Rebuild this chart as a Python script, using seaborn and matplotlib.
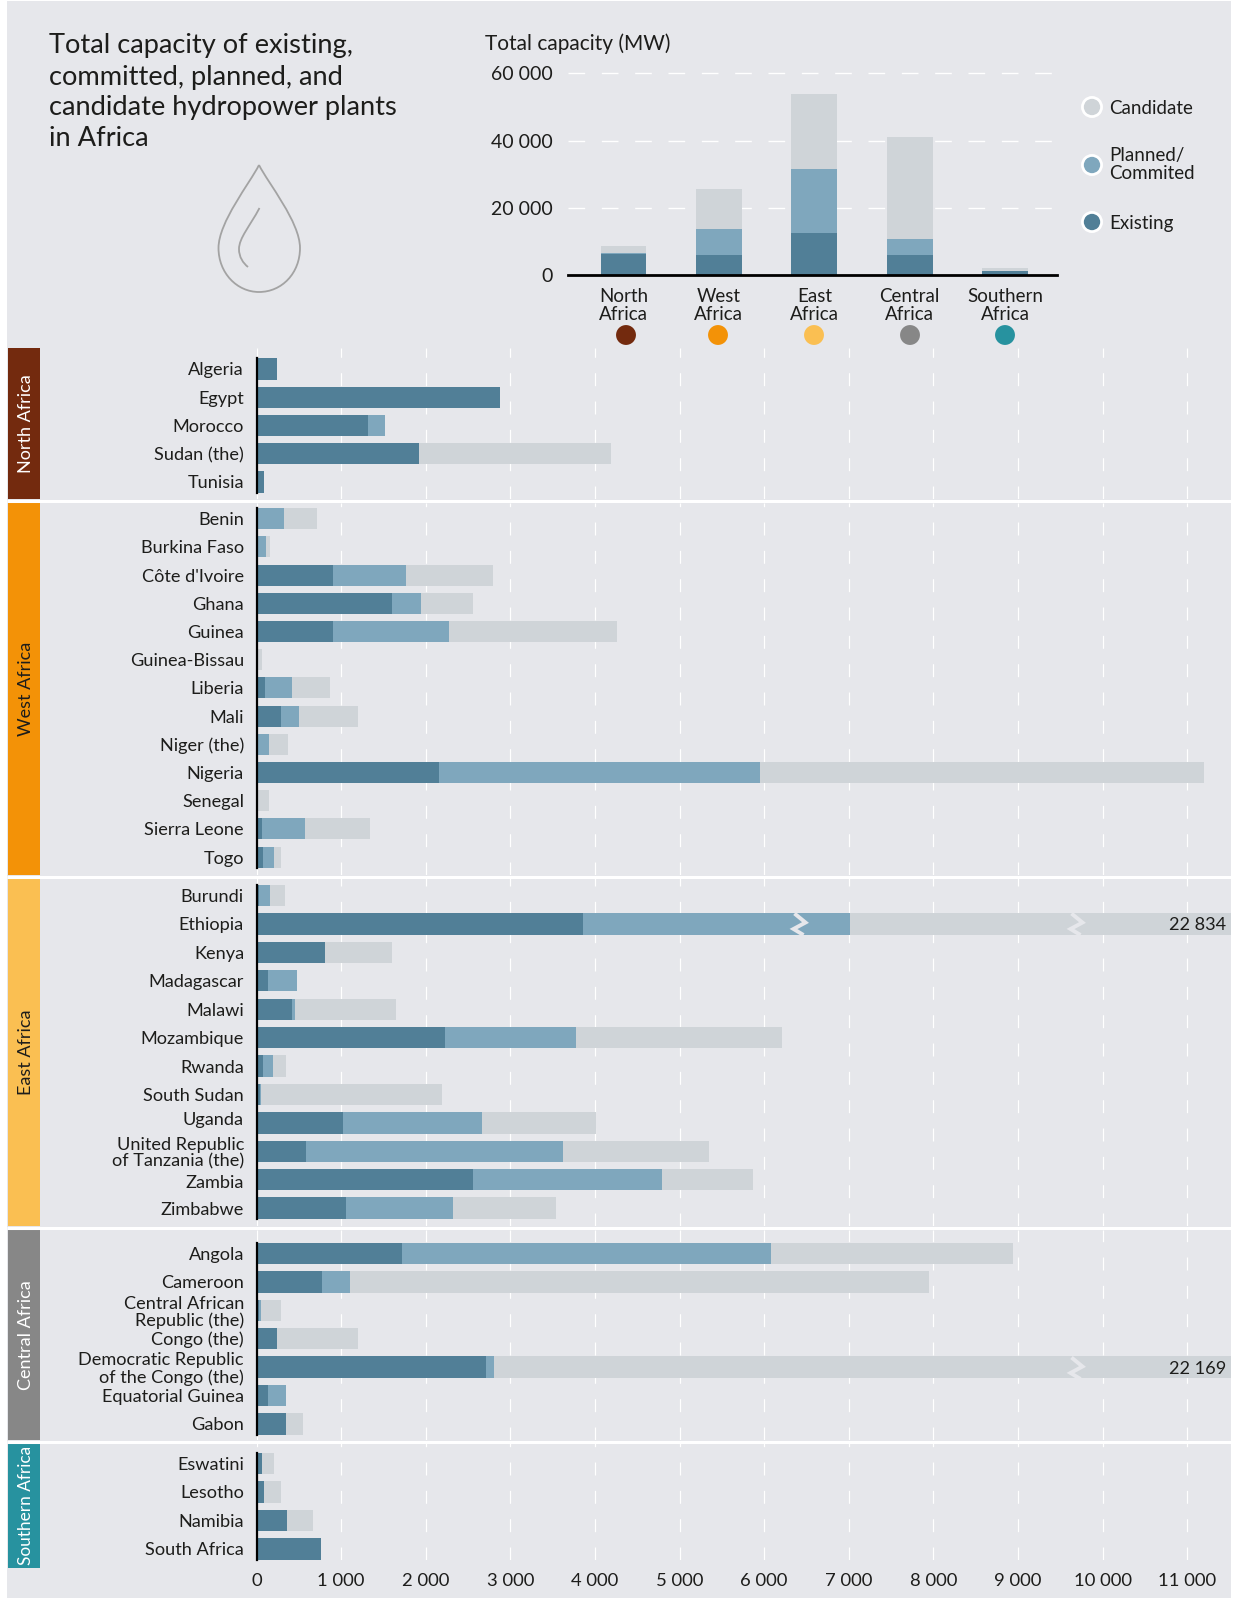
import numpy as np
import pandas as pd
import matplotlib
matplotlib.use("Agg")
import matplotlib.pyplot as plt
from matplotlib.patches import Rectangle, PathPatch
from matplotlib.path import Path
from matplotlib.transforms import ScaledTranslation
import seaborn as sns

W, H = 1238, 1598
FONT = ["Lato", "DejaVu Sans"]
INK = "#1d1d1b"
PANEL = "#e6e7eb"
C_EXIST = "#517f97"
C_PLAN = "#7fa7bd"
C_CAND = "#cfd4d8"

# ---------- summary chart ----------
regions = ["North\nAfrica", "West\nAfrica", "East\nAfrica", "Central\nAfrica", "Southern\nAfrica"]
region_colors = ["#732a0e", "#f39207", "#fabf52", "#878787", "#27929f"]
region_existing = [6300, 5950, 12500, 5950, 1200]
region_planned = [250, 7750, 19000, 4750, 0]
region_candidate = [2150, 11900, 22400, 30400, 900]

# ---------- country chart (MW as drawn; Ethiopia and DRC bars are cut short) ----------
north_names = ["Algeria", "Egypt", "Morocco", "Sudan (the)", "Tunisia"]
north_existing = [240, 2880, 1313, 1915, 85]
north_planned = [0, 0, 205, 0, 0]
north_candidate = [0, 0, 0, 2278, 0]

west_names = ["Benin", "Burkina Faso", "Côte d'Ivoire", "Ghana", "Guinea", "Guinea-Bissau", "Liberia",
              "Mali", "Niger (the)", "Nigeria", "Senegal", "Sierra Leone", "Togo"]
west_existing = [15, 20, 904, 1602, 904, 0, 96, 289, 10, 2157, 0, 60, 72]
west_planned = [310, 88, 867, 338, 1373, 0, 326, 217, 135, 3795, 0, 518, 133]
west_candidate = [385, 49, 1024, 614, 1988, 60, 445, 699, 228, 5253, 145, 759, 84]

east_names = ["Burundi", "Ethiopia", "Kenya", "Madagascar", "Malawi", "Mozambique", "Rwanda", "South Sudan",
              "Uganda", "United Republic\nof Tanzania (the)", "Zambia", "Zimbabwe"]
east_existing = [25, 3855, 807, 133, 422, 2229, 72, 40, 1024, 590, 2554, 1060]
east_planned = [132, 3157, 0, 349, 36, 1542, 121, 8, 1639, 3037, 2241, 1265]
east_candidate = [180, 4508, 795, 0, 1192, 2446, 156, 2145, 1349, 1722, 1072, 1217]

central_names = ["Angola", "Cameroon", "Central African\nRepublic (the)", "Congo (the)",
                 "Democratic Republic\nof the Congo (the)", "Equatorial Guinea", "Gabon"]
central_existing = [1723, 771, 25, 240, 2711, 133, 349]
central_planned = [4361, 337, 23, 0, 96, 216, 0]
central_candidate = [2856, 6844, 241, 965, 8713, 0, 205]

south_names = ["Eswatini", "Lesotho", "Namibia", "South Africa"]
south_existing = [70, 85, 361, 759]
south_planned = [0, 0, 0, 0]
south_candidate = [135, 204, 302, 0]

x_ticks = [0, 1000, 2000, 3000, 4000, 5000, 6000, 7000, 8000, 9000, 10000, 11000]
x_labels = ["0", "1 000", "2 000", "3 000", "4 000", "5 000", "6 000", "7 000", "8 000", "9 000", "10 000", "11 000"]
y_ticks = [0, 20000, 40000, 60000]
y_labels = ["0", "20 000", "40 000", "60 000"]

sns.set_theme(style="white")
plt.rcParams["font.family"] = FONT
plt.rcParams["text.color"] = INK

fig = plt.figure(figsize=(W / 100, H / 100), dpi=100, facecolor="white")


def rect(left, top, right, bottom):
    return [left / W, 1 - bottom / H, (right - left) / W, (bottom - top) / H]


bg = fig.add_axes([0, 0, 1, 1], zorder=0)
bg.set_xlim(0, W); bg.set_ylim(H, 0); bg.axis("off")
fg = fig.add_axes([0, 0, 1, 1], zorder=5)
fg.set_xlim(0, W); fg.set_ylim(H, 0); fg.axis("off"); fg.patch.set_alpha(0)

bg.add_patch(Rectangle((7, 1), 1224, 1597, fc=PANEL, ec="none"))

# ---------- title ----------
for i, line in enumerate(["Total capacity of existing,", "committed, planned, and",
                          "candidate hydropower plants", "in Africa"]):
    bg.text(49, 46 + 31 * i, line, fontsize=19.6, va="center", ha="left", color=INK)

# drop icon
drop_codes = [Path.MOVETO, Path.CURVE4, Path.CURVE4, Path.CURVE4, Path.CURVE4, Path.CURVE4, Path.CURVE4,
              Path.CURVE4, Path.CURVE4, Path.CURVE4, Path.CURVE4, Path.CURVE4, Path.CURVE4]
drop_verts = [(259, 165), (250, 183), (218.5, 222), (218.5, 248), (218.5, 273), (237, 292), (259, 292),
              (282, 292), (300, 273), (300, 248), (300, 222), (268, 183), (259, 165)]
bg.add_patch(PathPatch(Path(drop_verts, drop_codes), fc="none", ec="#a3a3a3", lw=1.3))
inner = Path([(259.5, 208), (250, 226), (239, 238), (239, 249), (239, 257), (243, 263), (248, 267)],
             [Path.MOVETO] + [Path.CURVE4] * 6)
bg.add_patch(PathPatch(inner, fc="none", ec="#a3a3a3", lw=1.3))

# ---------- summary chart ----------
ax_top = fig.add_axes(rect(568, 60, 1057, 275), zorder=1)
ax_top.patch.set_alpha(0)
exist = np.array(region_existing, float)
plan = exist + np.array(region_planned, float)
cand = plan + np.array(region_candidate, float)
for vals, col in [(cand, C_CAND), (plan, C_PLAN), (exist, C_EXIST)]:
    sns.barplot(data=pd.DataFrame({"region": regions, "mw": vals}), x="region", y="mw", color=col,
                saturation=1, width=0.48, linewidth=0, ax=ax_top)
ax_top.set_xlim(-0.582, 4.544)
ax_top.set_ylim(0, 63988)
ax_top.set_xlabel(""); ax_top.set_ylabel("")
ax_top.set_yticks(y_ticks, y_labels)
ax_top.set_axisbelow(True)
ax_top.yaxis.grid(True, color="white", lw=1.0, linestyle=(0, (12, 12)))
ax_top.xaxis.grid(False)
for s in ["top", "left", "right"]:
    ax_top.spines[s].set_visible(False)
ax_top.spines["bottom"].set_color("black")
ax_top.spines["bottom"].set_linewidth(2)
ax_top.tick_params(axis="y", length=0, pad=11, labelsize=14, labelcolor=INK)
ax_top.tick_params(axis="x", length=0, pad=9, labelsize=13.5, labelcolor=INK)
for lab in ax_top.get_xticklabels():
    lab.set_linespacing(1.1)
bg.text(485, 43.5, "Total capacity (MW)", fontsize=15, va="center", ha="left", color=INK)

dot_x = [626, 718, 814, 910, 1005]
bg.scatter(dot_x, [335] * 5, s=205, c=region_colors, linewidths=0)

# legend
leg_y = [107, 165, 222]
leg_cols = [C_CAND, C_PLAN, C_EXIST]
bg.scatter([1092] * 3, leg_y, s=190, c=leg_cols, edgecolors="white", linewidths=2)
bg.text(1109, 108, "Candidate", fontsize=13.5, va="center", ha="left", color=INK)
bg.text(1109, 164.5, "Planned/\nCommited", fontsize=13.5, va="center", ha="left", color=INK, linespacing=1.08)
bg.text(1109, 223, "Existing", fontsize=13.5, va="center", ha="left", color=INK)

# ---------- country panels ----------
panels = [
    ("North Africa", 348, 499, north_names, north_existing, north_planned, north_candidate, 369, 28.25, "white", region_colors[0]),
    ("West Africa", 503, 875, west_names, west_existing, west_planned, west_candidate, 518.7, 28.2, "#1d1d1b", region_colors[1]),
    ("East Africa", 878, 1226, east_names, east_existing, east_planned, east_candidate, 895.5, 28.42, "#1d1d1b", region_colors[2]),
    ("Central Africa", 1230, 1440, central_names, central_existing, central_planned, central_candidate, 1253.5, 28.4, "white", region_colors[3]),
    ("Southern Africa", 1443, 1560, south_names, south_existing, south_planned, south_candidate, 1463.4, 28.5, "white", region_colors[4]),
]
X_LEFT, X_RIGHT = 256.5, 1231
X_MAX = (X_RIGHT - X_LEFT) / 0.0846
label_nudge_px = {"Uganda": 4, "Zambia": -2}

for label, top, bottom, names, e, p, c, first, step, tcol, band in panels:
    band_bottom = 1568 if label == "Southern Africa" else bottom
    bg.add_patch(Rectangle((8, top), 32, band_bottom - top, fc=band, ec="none"))
    band_size = 12.4 if label == "Southern Africa" else 13
    bg.text(26, (top + band_bottom) / 2, label, rotation=90, ha="center", va="center", fontsize=band_size, color=tcol)
    ax = fig.add_axes(rect(X_LEFT, top, X_RIGHT, bottom), zorder=1)
    ax.patch.set_alpha(0)
    e1 = np.array(e, float); p1 = e1 + np.array(p, float); c1 = p1 + np.array(c, float)
    for vals, col in [(c1, C_CAND), (p1, C_PLAN), (e1, C_EXIST)]:
        sns.barplot(data=pd.DataFrame({"country": names, "mw": vals}), y="country", x="mw", orient="h",
                    color=col, saturation=1, width=0.75, linewidth=0, ax=ax)
    ax.set_xlim(0, X_MAX)
    ax.set_ylim((bottom - first) / step, (top - first) / step)
    ax.set_xlabel(""); ax.set_ylabel("")
    ax.set_axisbelow(True)
    ax.xaxis.grid(True, color="white", lw=0.85, linestyle=(0, (11, 13)))
    ax.yaxis.grid(False)
    for s in ["top", "right", "bottom"]:
        ax.spines[s].set_visible(False)
    ax.spines["left"].set_color("black")
    ax.spines["left"].set_linewidth(1.6)
    ax.spines["left"].set_bounds(len(names) - 1 + 0.375, -0.375)
    ax.spines["left"].set_zorder(6)
    ax.tick_params(axis="y", length=0, pad=9, labelsize=13.1, labelcolor=INK)
    for lab in ax.get_yticklabels():
        lab.set_linespacing(1.07)
        nudge = label_nudge_px.get(lab.get_text(), 0)
        if nudge:
            lab.set_transform(lab.get_transform() + ScaledTranslation(0, nudge / 100, fig.dpi_scale_trans))
    if label == "Southern Africa":
        ax.set_xticks(x_ticks, x_labels)
        ax.tick_params(axis="x", length=0, pad=9.5, labelsize=13.3, labelcolor=INK)
    else:
        ax.set_xticks(x_ticks)
        ax.tick_params(axis="x", length=0, labelbottom=False)

# white separators across the panel
for y in [501, 876.5, 1228, 1441.5]:
    bg.plot([7, 1231], [y, y], color="white", lw=2.2, solid_capstyle="butt")


def zigzag(x, top, bottom):
    h = bottom - top
    fg.plot([x - 5, x + 6, x - 6, x + 4], [top, top + h * 0.42, top + h * 0.72, bottom],
            color=PANEL, lw=2.8, solid_joinstyle="miter", solid_capstyle="butt")


zigzag(799.5, 913.5, 935)
zigzag(1076.5, 913.5, 935)
zigzag(1076.5, 1357.5, 1379)
fg.text(1226, 925, "22 834", ha="right", va="center", fontsize=13.1, color=INK)
fg.text(1226, 1368.5, "22 169", ha="right", va="center", fontsize=13.1, color=INK)

fig.savefig("out.png", dpi=100, facecolor="white")
